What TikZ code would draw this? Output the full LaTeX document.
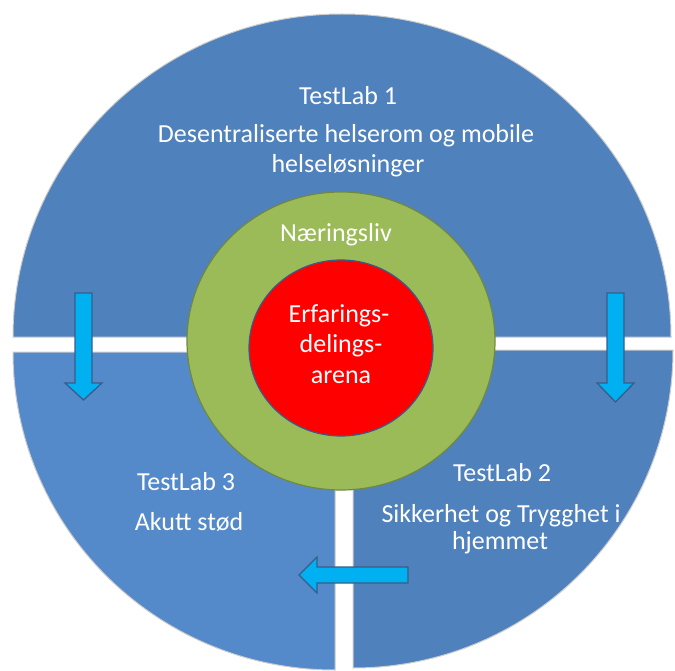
\documentclass[tikz,border=0pt]{standalone}
\usepackage{fontspec}
\setmainfont{Carlito}
\usetikzlibrary{shapes.geometric}
\definecolor{labblue}{RGB}{79,129,189}
\definecolor{labbluelight}{RGB}{84,138,202}
\definecolor{ringgreen}{RGB}{155,187,89}
\definecolor{ringedge}{RGB}{113,137,63}
\definecolor{coreedge}{RGB}{56,93,138}
\definecolor{arrowfill}{RGB}{0,176,240}
\definecolor{arrowedge}{RGB}{56,93,138}
\begin{document}
\begin{tikzpicture}[x=1pt,y=-1pt,
  piece/.style={draw=black!20, line width=1pt},
  flowarrow/.style={fill=arrowfill, draw=arrowedge, line width=1.3pt, line join=miter},
  lbl/.style={text=white, font=\fontsize{26}{30}\selectfont, anchor=base, inner sep=0pt}]
\useasboundingbox (0,0) rectangle (675,671);

% three sectors of the outer disc, pulled apart
\filldraw[piece, fill=labblue] (13,337) arc[start angle=180, end angle=360, x radius=329, y radius=323] -- cycle;
\filldraw[piece, fill=labbluelight] (335,352) -- (13,352) arc[start angle=180, end angle=90, x radius=322, y radius=318] -- cycle;
\filldraw[piece, fill=labblue] (353,350) -- (673,350) arc[start angle=0, end angle=90, x radius=320, y radius=318] -- cycle;

% flow arrows between the sectors
\filldraw[flowarrow] (75,293) -- (92,293) -- (92,383) -- (102,383) -- (83.5,400) -- (65,383) -- (75,383) -- cycle;
\filldraw[flowarrow] (607,293) -- (624,293) -- (624,383) -- (634,383) -- (615.5,402) -- (597,383) -- (607,383) -- cycle;
\filldraw[flowarrow] (408,567) -- (408,583) -- (317,583) -- (317,593) -- (299,575) -- (317,557) -- (317,567) -- cycle;

% centre rings
\node (ring) [ellipse, fill=ringgreen, draw=ringedge, line width=1.2pt,
  minimum width=308pt, minimum height=298pt, inner sep=0pt] at (341,341) {};
\node (core) [ellipse, fill=red, draw=coreedge, line width=1.2pt,
  minimum width=184pt, minimum height=176pt, inner sep=0pt] at (341,348) {};

% labels
\node[lbl] (t1) at (348,105) {TestLab 1};
\node[lbl] (d1a) at (346,143) {Desentraliserte helserom og mobile};
\node[lbl] (d1b) at (348,173) {helseløsninger};
\node[lbl] (nl) at (336,242) {Næringsliv};
\node[lbl] (c1) at (339,322) {Erfarings-};
\node[lbl] (c2) at (341,352) {delings-};
\node[lbl] (c3) at (341,383) {arena};
\node[lbl] (t3) at (186,490) {TestLab 3};
\node[lbl] (d3) at (189,530) {Akutt stød};
\node[lbl] (t2) at (502,481) {TestLab 2};
\node[lbl] (d2a) at (501,522) {Sikkerhet og Trygghet i};
\node[lbl] (d2b) at (500,549) {hjemmet};
\end{tikzpicture}
\end{document}
